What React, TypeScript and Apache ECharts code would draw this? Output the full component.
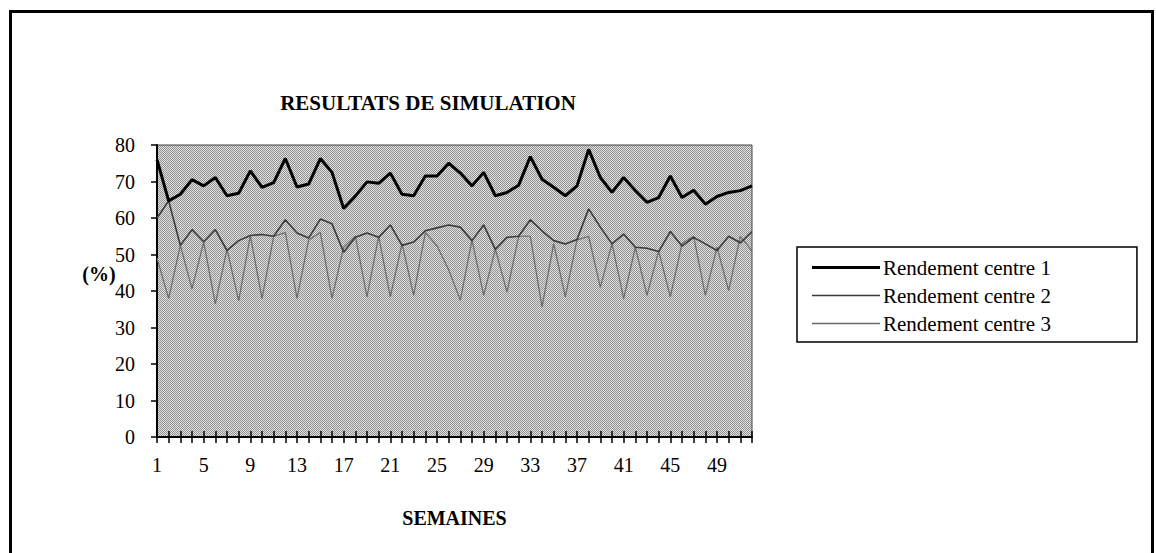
import React, { useEffect, useRef } from "react";
import * as echarts from "echarts";

const weeks: string[] = Array.from({ length: 52 }, (_, i) => String(i + 1));

const centre1: number[] = [
  76, 64.7, 66.5, 70.5, 68.8, 71.1, 66.1, 66.8, 72.9, 68.4,
  69.7, 76.3, 68.5, 69.3, 76.3, 72.5, 62.6, 66, 69.9, 69.5,
  72.3, 66.5, 66.1, 71.5, 71.5, 75, 72.3, 68.8, 72.5, 66.1,
  67, 69, 76.8, 70.6, 68.4, 66.1, 68.8, 78.8, 71.1, 67,
  71.1, 67.5, 64.3, 65.6, 71.5, 65.6, 67.6, 63.8, 65.9, 67,
  67.5, 68.8,
];

const centre2: number[] = [
  60, 64.7, 52.5, 56.8, 53.5, 56.8, 51.1, 53.8, 55.2, 55.5,
  55, 59.5, 55.9, 54.5, 59.7, 58.4, 50.6, 54.7, 55.9, 54.7,
  58.1, 52.5, 53.4, 56.5, 57.3, 58.1, 57.5, 53.8, 58.1, 51.4,
  54.7, 55, 59.5, 56.5, 53.8, 52.9, 54.1, 62.5, 57.5, 52.9,
  55.6, 52, 51.7, 50.8, 56.3, 52.3, 54.7, 52.9, 51.1, 55,
  53.2, 56.3,
];

const centre3: number[] = [
  49, 38, 52.5, 40.6, 53.4, 36.5, 51.5, 37.3, 55.2, 37.9,
  55, 56, 38, 54, 56, 38, 52, 55, 38.4, 55,
  38.4, 53, 38.8, 56, 52.4, 45.8, 37.5, 54, 38.8, 51.5,
  39.7, 55, 55, 35.6, 53, 38.4, 54, 55, 41, 53,
  37.9, 52, 38.8, 51, 38.4, 53, 55, 38.8, 52, 40.1,
  55, 51,
];

const seriesNames: string[] = ["Rendement centre 1", "Rendement centre 2", "Rendement centre 3"];
const seriesColors: string[] = ["#000000", "#3a3a3a", "#6a6a6a"];
const seriesWidths: number[] = [3, 1.6, 1.2];

const FONT = "'Liberation Serif', 'Times New Roman', serif";

function makePattern(): string {
  const c = document.createElement("canvas");
  c.width = 2;
  c.height = 2;
  const ctx = c.getContext("2d");
  if (ctx) {
    ctx.fillStyle = "#e2e2e2";
    ctx.fillRect(0, 0, 2, 2);
    ctx.fillStyle = "#909090";
    ctx.fillRect(0, 0, 1, 1);
    ctx.fillRect(1, 1, 1, 1);
  }
  return c.toDataURL();
}

export default function App() {
  const ref = useRef<HTMLDivElement>(null);

  useEffect(() => {
    if (!ref.current) return;
    const chart = echarts.init(ref.current, null, { renderer: "svg" });
    const patternSrc = makePattern();

    const option: any = {
      animation: false,
      backgroundColor: "#ffffff",
      textStyle: { fontFamily: FONT, color: "#000" },
      grid: {
        left: 157,
        top: 145,
        right: 404,
        bottom: 116,
        show: true,
        backgroundColor: { image: patternSrc, repeat: "repeat" },
        borderColor: "#444",
        borderWidth: 1,
      },
      legend: {
        orient: "vertical",
        left: 797,
        top: 247,
        padding: [10, 86, 8, 15],
        itemWidth: 68,
        itemHeight: 12,
        itemGap: 7,
        symbolKeepAspect: true,
        borderColor: "#000",
        borderWidth: 1.5,
        backgroundColor: "#fff",
        textStyle: { fontFamily: FONT, fontSize: 21, color: "#000", lineHeight: 21, padding: [0, 0, 0, -2] },
        data: seriesNames.map((n, i) => ({
          name: n,
          icon: i === 0 ? "path://M0 0H68V3H0Z" : "path://M0 0H68V1.4H0Z",
          itemStyle: { color: seriesColors[i] },
        })),
      },
      xAxis: [
        {
          type: "category",
          data: weeks,
          boundaryGap: false,
          axisLine: { show: true, lineStyle: { color: "#000", width: 2 } },
          axisTick: { show: true, interval: 0, inside: false, length: 6, lineStyle: { color: "#000", width: 1.5 } },
          axisLabel: {
            interval: 3,
            margin: 18,
            fontFamily: FONT,
            fontSize: 20,
            color: "#000",
          },
          splitLine: { show: false },
          name: "SEMAINES",
          nameLocation: "middle",
          nameGap: 81,
          nameTextStyle: { fontFamily: FONT, fontSize: 20, fontWeight: "bold", color: "#000", verticalAlign: "middle" },
        },
        {
          type: "category",
          data: weeks,
          boundaryGap: false,
          position: "bottom",
          axisLine: { show: false },
          axisTick: { show: true, interval: 0, inside: true, length: 6, lineStyle: { color: "#000", width: 1.5 } },
          axisLabel: { show: false },
          splitLine: { show: false },
        },
      ],
      yAxis: {
        type: "value",
        min: 0,
        max: 80,
        interval: 10,
        axisLine: { show: true, lineStyle: { color: "#000", width: 2 } },
        axisTick: { show: true, length: 6, lineStyle: { color: "#000", width: 1.5 } },
        axisLabel: { margin: 22, fontFamily: FONT, fontSize: 20, color: "#000" },
        splitLine: { show: false },
      },
      graphic: [
        {
          type: "rect",
          shape: { x: 10.5, y: 11.5, width: 1142, height: 580 },
          style: { fill: "none", stroke: "#000", lineWidth: 3 },
          silent: true,
          z: 100,
        },
        {
          type: "text",
          x: 428,
          y: 103,
          style: {
            text: "RESULTATS DE SIMULATION",
            font: `bold 21px ${FONT}`,
            fill: "#000",
            align: "center",
            verticalAlign: "middle",
          },
        },
        {
          type: "text",
          x: 99,
          y: 274,
          style: {
            text: "(%)",
            font: `bold 20px ${FONT}`,
            fill: "#000",
            align: "center",
            verticalAlign: "middle",
          },
        },
      ],
      series: seriesNames.map((n, i) => ({
        name: n,
        type: "line",
        data: [centre1, centre2, centre3][i],
        symbol: "none",
        lineStyle: { color: seriesColors[i], width: seriesWidths[i] },
        itemStyle: { color: seriesColors[i] },
        z: 5 - i,
      })),
    };

    chart.setOption(option);
    return () => chart.dispose();
  }, []);

  return (
    <div
      ref={ref}
      style={{ position: "fixed", left: 0, top: 0, width: 1156, height: 553 }}
    />
  );
}
